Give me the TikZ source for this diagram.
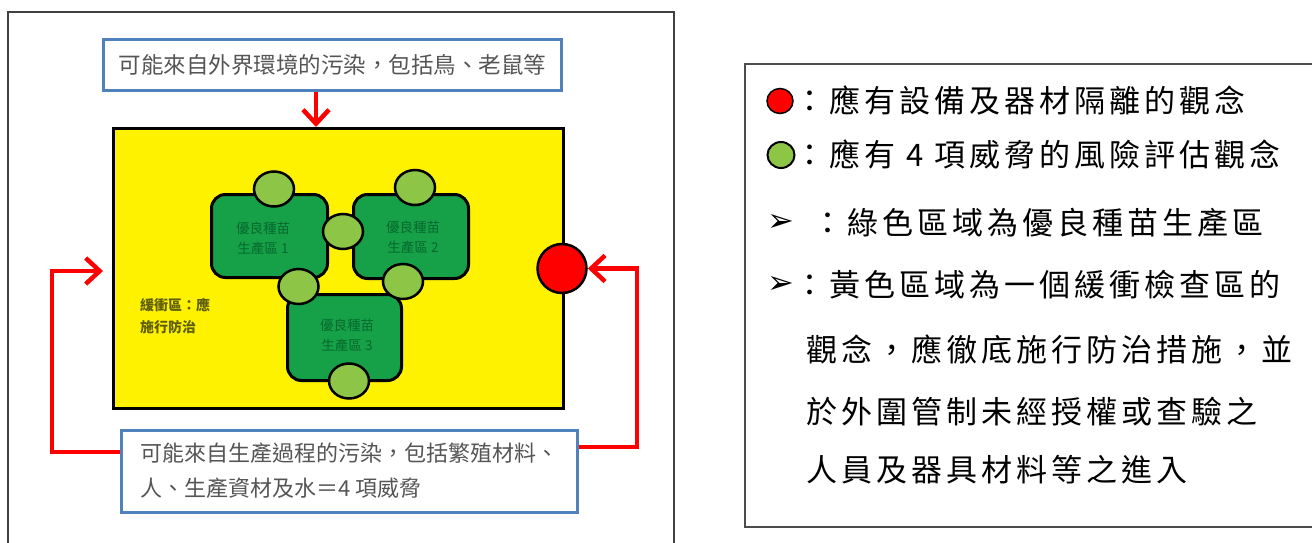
\documentclass[tikz,border=0pt]{standalone}
\usepackage{fontspec}
\newfontfamily\cjk{Noto Sans CJK TC}
\newfontfamily\cjkls{Noto Sans CJK TC}[LetterSpace=12.9]
\newfontfamily\dejavu{DejaVu Sans}
\usetikzlibrary{arrows.meta,shapes.geometric}
\definecolor{boxblue}{RGB}{79,129,189}
\definecolor{zonegreen}{RGB}{22,160,72}
\definecolor{lightg}{RGB}{141,198,70}
\definecolor{zonetext}{RGB}{5,105,45}
\definecolor{buftext}{RGB}{95,95,10}
\definecolor{txtgray}{RGB}{85,85,85}
\tikzset{
  bluebox/.style={draw=boxblue, line width=3pt, fill=white, inner sep=0pt},
  zone/.style={draw=black, line width=3pt, fill=zonegreen, rounded corners=14pt, inner sep=0pt},
  zonelbl/.style={text=zonetext, font=\cjk\fontsize{13.5}{20}\selectfont, align=center, inner sep=0pt},
  threat/.style={ellipse, draw=black, line width=2.5pt, fill=lightg, minimum width=40pt, minimum height=35pt, inner sep=0pt},
  conn/.style={draw=red, line width=4.5pt, -{Straight Barb[length=14pt, width=26pt]}},
  legtxt/.style={anchor=west, inner sep=0pt, font=\cjkls\fontsize{31}{34}\selectfont},
  bullet/.style={inner sep=0pt, font=\dejavu\fontsize{32}{34}\selectfont}
}
\begin{document}
\begin{tikzpicture}[x=1pt,y=-1pt]
\useasboundingbox (0,0) rectangle (1312,543);
\fill[white] (0,0) rectangle (1312,543);
% frames
\draw[line width=1.5pt, black!75] (8,546) -- (8,12) -- (674,12) -- (674,546);
\draw[line width=2pt, black!70] (1316,64) -- (745,64) -- (745,527) -- (1316,527);
% left diagram
\node[draw=black, line width=3pt, fill=yellow, minimum width=450pt, minimum height=280pt, inner sep=0pt] (yellow) at (338.5,268.5) {};
\node[bluebox, minimum width=458pt, minimum height=51pt, text=txtgray, font=\cjk\fontsize{22.5}{26}\selectfont] (topbox) at (332.5,65) {可能來自外界環境的污染，包括鳥、老鼠等};
\node[bluebox, minimum width=456pt, minimum height=82pt, text=txtgray, align=left, font=\cjk\fontsize{22}{35}\selectfont] (botbox) at (349.5,471) {可能來自生產過程的污染，包括繁殖材料、\\人、生產資材及水＝4 項威脅};
\node[zone, minimum width=116pt, minimum height=83pt] (z1) at (269.5,236) {};
\node[zone, minimum width=115pt, minimum height=84pt] (z2) at (411,236.5) {};
\node[zone, minimum width=114pt, minimum height=86pt] (z3) at (344.5,337.5) {};
\node[zonelbl] (z1t) at (263,238) {優良種苗\\生產區 1};
\node[zonelbl] (z2t) at (413,237) {優良種苗\\生產區 2};
\node[zonelbl] (z3t) at (347,335) {優良種苗\\生產區 3};
\node[threat] (c1) at (274,189) {};
\node[threat] (c2) at (415,187.5) {};
\node[threat] (c12) at (343,231.5) {};
\node[threat] (c13) at (298.5,286.5) {};
\node[threat] (c23) at (403,281.5) {};
\node[threat] (c3) at (349,381) {};
\node[anchor=north west, inner sep=0pt, align=left, text=buftext, font=\cjk\bfseries\fontsize{14}{22}\selectfont] (buf) at (140,298) {緩衝區：應\\施行防治};
\node[circle, draw=black, line width=2.5pt, fill=red, minimum size=49pt, inner sep=0pt] (redc) at (562,268.5) {};
% connectors
\coordinate (tx) at (316,0);
\draw[conn] (topbox.south -| tx) -- (yellow.north -| tx);
\coordinate (lb) at (52,452);
\coordinate (lt) at (103,271);
\draw[conn] (botbox.west |- lb) -- (lb) |- (lt);
\coordinate (rb) at (637,447);
\draw[conn] (botbox.east |- rb) -- (rb) |- (redc.east);
% legend
\node[ellipse, draw=black, line width=1.5pt, fill=red, minimum width=26pt, minimum height=25pt, inner sep=0pt] (lr) at (780,101) {};
\node[ellipse, draw=black, line width=2pt, fill=lightg, minimum width=27pt, minimum height=26pt, inner sep=0pt] (lg) at (781,155) {};
\node[legtxt] (l1) at (794,101) {：應有設備及器材隔離的觀念};
\node[legtxt] (l2) at (794,155) {：應有 4 項威脅的風險評估觀念};
\node[bullet] (b1) at (781,223) {➢};
\node[legtxt] (l3) at (812,223) {：綠色區域為優良種苗生產區};
\node[bullet] (b2) at (781,285) {➢};
\node[legtxt] (l4) at (794,285) {：黃色區域為一個緩衝檢查區的};
\node[legtxt] (l5) at (806,350) {觀念，應徹底施行防治措施，並};
\node[legtxt] (l6) at (806,412) {於外圍管制未經授權或查驗之};
\node[legtxt] (l7) at (806,470) {人員及器具材料等之進入};
\end{tikzpicture}
\end{document}
